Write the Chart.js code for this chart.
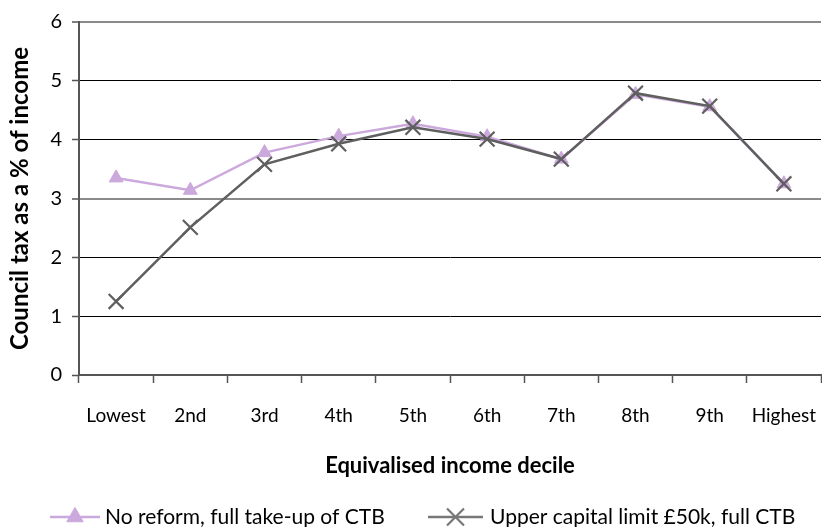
<!DOCTYPE html>
<html>
<head>
<meta charset="utf-8">
<script src="https://cdn.jsdelivr.net/npm/chart.js@4/dist/chart.umd.min.js"></script>
<style>
  html, body { margin: 0; padding: 0; background: #fff; }
  #wrap { width: 822px; height: 527px; }
</style>
</head>
<body>
<div id="wrap"><canvas id="c" width="822" height="527"></canvas></div>
<script>
// Equivalised income deciles
const deciles = ['Lowest', '2nd', '3rd', '4th', '5th', '6th', '7th', '8th', '9th', 'Highest'];

// Council tax as a % of income
const noReform = [3.35, 3.14, 3.78, 4.06, 4.27, 4.05, 3.67, 4.77, 4.56, 3.25];
const upperCapital = [1.25, 2.51, 3.58, 3.93, 4.21, 4.01, 3.67, 4.79, 4.57, 3.25];

const seriesNames = ['No reform, full take-up of CTB', 'Upper capital limit \u00a350k, full CTB'];
const axisTitles = { x: 'Equivalised income decile', y: 'Council tax as a % of income' };

Chart.defaults.font.family = 'Lato, "Open Sans", sans-serif';
Chart.defaults.color = '#000';

// Legend drawn below the axes: a short line with the series marker, then the name
const lineLegend = {
  id: 'lineLegend',
  afterDraw(chart, args, opts) {
    const ctx = chart.ctx;
    const y = opts.y;
    chart.data.datasets.forEach((ds, i) => {
      const it = opts.items[i];
      ctx.save();
      ctx.strokeStyle = it.lineColor || ds.borderColor;
      ctx.lineWidth = ds.borderWidth;
      ctx.beginPath();
      ctx.moveTo(it.x0, y);
      ctx.lineTo(it.x1, y);
      ctx.stroke();
      ctx.fillStyle = ds.pointBackgroundColor;
      ctx.strokeStyle = it.lineColor || ds.pointBorderColor;
      ctx.lineWidth = ds.pointBorderWidth;
      Chart.helpers.drawPoint(ctx, {
        pointStyle: ds.pointStyle,
        radius: it.radius,
        rotation: 0,
        borderWidth: ds.pointBorderWidth
      }, (it.x0 + it.x1) / 2, y);
      ctx.fillStyle = '#000';
      ctx.font = opts.font;
      ctx.textAlign = 'left';
      ctx.textBaseline = 'middle';
      ctx.fillText(ds.label, it.textX, y);
      ctx.restore();
    });
  }
};

const gridColorFor = v => (v === 6 || v === 3) ? '#8a8a8a' : '#000';
const gridWidthFor = v => (v === 6 || v === 3) ? 2 : 1;

new Chart(document.getElementById('c'), {
  type: 'line',
  data: {
    labels: deciles,
    datasets: [
      {
        label: seriesNames[0],
        data: noReform,
        borderColor: '#cca9dc',
        backgroundColor: '#cca9dc',
        borderWidth: 2.5,
        pointStyle: 'triangle',
        pointRadius: 8,
        pointBackgroundColor: '#cca9dc',
        pointBorderColor: '#cca9dc',
        pointBorderWidth: 1,
        tension: 0,
        order: 2
      },
      {
        label: seriesNames[1],
        data: upperCapital,
        borderColor: '#5f5f5f',
        backgroundColor: '#5f5f5f',
        borderWidth: 2.5,
        pointStyle: 'crossRot',
        pointRadius: 10.5,
        pointBackgroundColor: '#5f5f5f',
        pointBorderColor: '#5f5f5f',
        pointBorderWidth: 2.2,
        tension: 0,
        order: 1
      }
    ]
  },
  options: {
    responsive: false,
    animation: false,
    devicePixelRatio: 1,
    layout: {
      autoPadding: false,
      padding: { top: 22, right: 1, bottom: 40, left: 0 }
    },
    plugins: {
      legend: { display: false },
      tooltip: { enabled: false },
      lineLegend: {
        y: 517,
        font: '21px Lato, "Open Sans", sans-serif',
        items: [
          { x0: 50, x1: 100, textX: 105, radius: 9.5 },
          { x0: 428, x1: 483, textX: 490, radius: 12, lineColor: '#777' }
        ]
      }
    },
    scales: {
      x: {
        offset: true,
        grid: {
          offset: true,
          drawOnChartArea: false,
          drawTicks: true,
          tickLength: 8,
          tickColor: '#555',
          tickWidth: 1.5
        },
        border: { display: true, color: '#555', width: 2 },
        ticks: {
          // tall line box pushes the labels down below the tick marks
          font: { size: 19, lineHeight: 3.45 },
          padding: 0,
          maxRotation: 0,
          autoSkip: false
        },
        title: {
          display: true,
          text: axisTitles.x,
          font: { size: 22, weight: 'bold' },
          padding: { top: 0, bottom: 8 }
        },
        afterFit(scale) {
          scale.height = 112;
        }
      },
      y: {
        min: 0,
        max: 6,
        ticks: {
          stepSize: 1,
          font: { size: 20 },
          padding: 10
        },
        grid: {
          color: ctx => gridColorFor(ctx.tick.value),
          lineWidth: ctx => gridWidthFor(ctx.tick.value),
          drawTicks: true,
          tickLength: 7,
          tickColor: '#555',
          tickWidth: 1.5
        },
        border: { display: true, color: '#555', width: 2 },
        title: {
          display: true,
          text: axisTitles.y,
          font: { size: 24, weight: 'bold' },
          padding: { top: 6, bottom: 0 }
        },
        afterFit(scale) {
          scale.width = 79;
        }
      }
    }
  },
  plugins: [lineLegend]
});
</script>
</body>
</html>
